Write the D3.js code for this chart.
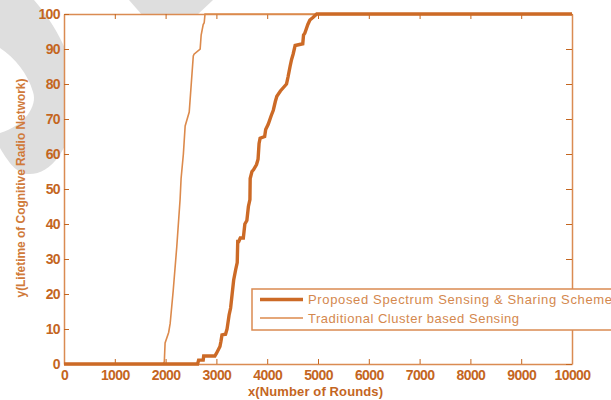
<!DOCTYPE html>
<html>
<head>
<meta charset="utf-8">
<script src="https://cdn.jsdelivr.net/npm/d3@7"></script>
<style>
  body { margin: 0; background: #fff; }
  svg { display: block; font-family: "Liberation Sans", Arial, sans-serif; }
</style>
</head>
<body>
<div id="chart"></div>
<script>
// data (rounds, lifetime %)
const proposedRounds = [0, 2630, 2650, 2740, 2750, 2970, 3000, 3070, 3090, 3110, 3180, 3210, 3250, 3280, 3310, 3340, 3380, 3410, 3420, 3440, 3470, 3530, 3560, 3600, 3630, 3660, 3665, 3700, 3730, 3790, 3820, 3840, 3860, 3950, 3970, 4020, 4080, 4120, 4160, 4190, 4260, 4320, 4380, 4410, 4450, 4480, 4510, 4550, 4700, 4715, 4740, 4800, 4840, 4900, 4975, 10000];
const proposedLife   = [0, 0, 1.1, 1.1, 2.3, 2.3, 3, 5, 6.5, 8.3, 8.5, 10, 14, 16, 20, 24, 27, 29, 35, 35, 36, 36, 40, 41, 45, 47, 53, 55, 55.5, 57, 58.5, 63, 64.5, 65, 67, 68.5, 71, 72.5, 75, 76.5, 78, 79, 80, 82, 85, 87, 88.5, 91, 91.5, 94, 94.5, 97, 98.3, 99, 100, 100];

const tradRounds = [0, 1955, 1975, 1990, 2060, 2090, 2150, 2220, 2285, 2305, 2350, 2385, 2465, 2510, 2545, 2560, 2680, 2700, 2740, 2760, 2776, 10000];
const tradLife   = [0, 0, 0.7, 6, 9, 11.6, 21, 33.5, 47, 53, 60, 68, 72, 81, 88, 88.5, 90, 94, 97, 97.5, 100, 100];

const xTicks = [0, 1000, 2000, 3000, 4000, 5000, 6000, 7000, 8000, 9000, 10000];
const yTicks = [0, 10, 20, 30, 40, 50, 60, 70, 80, 90, 100];

const seriesNames = ['Proposed Spectrum Sensing & Sharing Scheme', 'Traditional Cluster based Sensing'];

const width = 611, height = 400;
const margin = { top: 14, right: 39, bottom: 36, left: 64 };

const labelColor = '#c4661f';
const axisColor = '#da8b52';

const svg = d3.select('#chart').append('svg')
  .attr('width', width)
  .attr('height', height);

svg.append('rect').attr('width', width).attr('height', height).attr('fill', '#fff');

// grey watermark behind the plot
const wm = svg.append('g').attr('fill', '#dedede');
wm.append('path')
  .attr('d', 'M0,0 L34,0 C60,30 80,70 75,110 C70,150 50,176 27,174 C15,173 6,158 0,148 L0,133 C24,126 38,106 33,92 C28,74 15,58 0,48 Z');
wm.append('path')
  .attr('d', 'M129,0 L213,0 L196,16 L143,16 Z');

const x = d3.scaleLinear().domain([0, 10000]).range([margin.left, width - margin.right]);
const y = d3.scaleLinear().domain([0, 100]).range([height - margin.bottom, margin.top]);

// plot background
svg.append('rect')
  .attr('x', x(0)).attr('y', y(100))
  .attr('width', x(10000) - x(0)).attr('height', y(0) - y(100))
  .attr('fill', '#fff');

// ticks on all four sides, pointing inward
const bottomAxis = svg.append('g')
  .attr('transform', `translate(0,${y(0)})`)
  .call(d3.axisBottom(x).tickValues(xTicks).tickSizeInner(-5).tickSizeOuter(0).tickPadding(6).tickFormat(d3.format('d')));
const topAxis = svg.append('g')
  .attr('transform', `translate(0,${y(100)})`)
  .call(d3.axisTop(x).tickValues(xTicks).tickSizeInner(-5).tickSizeOuter(0).tickFormat(''));
const leftAxis = svg.append('g')
  .attr('transform', `translate(${x(0)},0)`)
  .call(d3.axisLeft(y).tickValues(yTicks).tickSizeInner(-5).tickSizeOuter(0).tickPadding(4).tickFormat(d3.format('d')));
const rightAxis = svg.append('g')
  .attr('transform', `translate(${x(10000)},0)`)
  .call(d3.axisRight(y).tickValues(yTicks).tickSizeInner(-6).tickSizeOuter(0).tickFormat(''));

[bottomAxis, topAxis, leftAxis, rightAxis].forEach(a => {
  a.select('.domain').attr('stroke', axisColor).attr('stroke-width', 1.5);
  a.selectAll('.tick line').attr('stroke', labelColor).attr('stroke-width', 1);
  a.selectAll('.tick text')
    .attr('fill', labelColor)
    .style('font-size', '14px')
    .style('font-weight', 'bold')
    .style('letter-spacing', '-0.6px');
});

// curves
const proposed = proposedRounds.map((r, i) => [r, proposedLife[i]]);
const trad = tradRounds.map((r, i) => [r, tradLife[i]]);

const line = d3.line().x(d => x(d[0])).y(d => y(d[1]));

svg.append('path')
  .datum(trad)
  .attr('d', line)
  .attr('fill', 'none')
  .attr('stroke', '#dc8a4c')
  .attr('stroke-width', 1.6);

svg.append('path')
  .datum(proposed)
  .attr('d', line)
  .attr('fill', 'none')
  .attr('stroke', '#cc6a26')
  .attr('stroke-width', 3.4);

// axis titles
svg.append('text')
  .attr('x', 315.5)
  .attr('y', 396)
  .attr('text-anchor', 'middle')
  .attr('fill', labelColor)
  .attr('textLength', 135)
  .style('font-size', '13px')
  .style('font-weight', 'bold')
  .text('x(Number of Rounds)');

svg.append('text')
  .attr('transform', 'translate(25,188) rotate(-90)')
  .attr('text-anchor', 'middle')
  .attr('fill', '#d07a3a')
  .attr('textLength', 219)
  .style('font-size', '12px')
  .style('font-weight', 'bold')
  .text('y(Lifetime of Cognitive Radio Network)');

// legend
const legend = svg.append('g').attr('transform', 'translate(252,289)');
legend.append('rect')
  .attr('width', 380).attr('height', 41)
  .attr('fill', '#fff')
  .attr('stroke', axisColor)
  .attr('stroke-width', 1.5);

const legendItems = legend.selectAll('.legend-item')
  .data(seriesNames)
  .enter().append('g')
  .attr('class', 'legend-item')
  .attr('transform', (d, i) => `translate(0,${10.5 + i * 18.5})`);

legendItems.append('line')
  .attr('x1', 8).attr('x2', 51)
  .attr('stroke', (d, i) => i === 0 ? '#cc6a26' : '#dc8a4c')
  .attr('stroke-width', (d, i) => i === 0 ? 3.6 : 1.6);

legendItems.append('text')
  .attr('x', 56)
  .attr('y', 4.5)
  .attr('fill', '#d4884e')
  .attr('textLength', (d, i) => i === 0 ? 304 : 211)
  .style('font-size', '13px')
  .text(d => d);
</script>
</body>
</html>
